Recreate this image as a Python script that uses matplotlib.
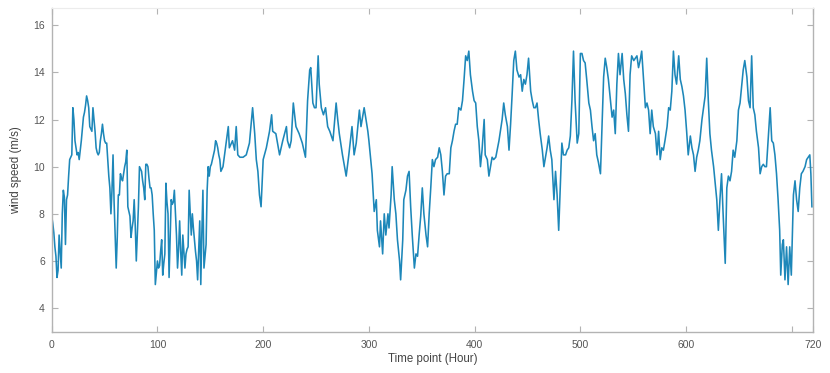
import matplotlib
matplotlib.use("Agg")
import matplotlib.pyplot as plt

# ---- data (hour, wind speed m/s) ----
hours = [
    0, 1, 2, 3, 4, 5, 6, 7, 8, 9, 10, 11, 12, 13, 14, 15, 16, 17, 18, 19,
    20, 21, 22, 23, 24, 25, 26, 27, 28, 29, 30, 31, 32, 33, 34, 35, 36, 37, 38, 39,
    40, 41, 42, 43, 44, 45, 46, 47, 48, 49, 50, 51, 52, 53, 54, 55, 56, 57, 58, 59,
    60, 61, 62, 63, 64, 65, 66, 67, 68, 69, 70, 71, 72, 73, 74, 75, 76, 77, 78, 79,
    80, 81, 82, 83, 84, 85, 86, 87, 88, 89, 90, 91, 92, 93, 94, 95, 96, 97, 98, 99,
    100, 101, 102, 103, 104, 105, 106, 107, 108, 109, 110, 111, 112, 113, 114, 115, 116, 117, 118, 119,
    120, 121, 122, 123, 124, 125, 126, 127, 128, 129, 130, 131, 132, 133, 134, 135, 136, 137, 138, 139,
    140, 141, 142, 143, 144, 145, 146, 147, 148, 149, 150, 151, 152, 153, 154, 155, 156, 157, 158, 159,
    160, 162, 165, 167, 168, 171, 173, 174.5, 176, 178, 181, 184, 187, 190, 192, 193.5, 195, 196.5, 198,
    200, 203, 206, 208, 209, 212, 215.5, 218.5, 222, 223, 225, 226.5, 228.5, 231, 234, 237, 240, 242,
    244, 245, 247, 248.5, 250, 252, 253, 255, 257, 259, 261, 263, 266, 269, 270.5, 272, 275, 277, 278.5,
    281, 284, 286, 288, 291, 292.5, 294, 295.5, 299, 300, 303, 305, 307, 308, 310, 311, 313, 314.5, 316,
    318, 319, 321, 322, 324, 325.5, 327, 329, 330, 332, 333, 335, 336.5, 338, 339.5, 341, 343, 344.5,
    346, 347.5, 349, 350.5, 352, 354, 355.5, 357, 358.5, 360, 361.5, 363, 365, 366.5, 368, 369.5, 371,
    372.5, 374, 376, 377.5, 379, 380.5, 382, 383.5, 385, 387, 388.5, 390, 391.5, 393, 394.5, 396, 398,
    399.5, 401, 402.5, 404, 405.5, 407, 409, 410, 412, 413.5, 415, 416.5, 418, 420, 423, 426, 427.5,
    429, 431, 432.5, 434, 435.5, 437, 438.5, 440, 442, 443.5, 445, 446.5, 448, 449.5, 451, 453, 454.5,
    456, 457.5, 459, 460.5, 462, 464, 465.5, 467, 468.5, 470, 471.5, 473, 475, 476.5, 478, 479.5, 481,
    482.5, 484, 486, 487.5, 489, 490.5, 492, 493.5, 495, 497, 498.5, 500, 501.5, 503, 504.5, 506, 508,
    509.5, 511, 512.5, 514, 515.5, 517, 519, 520.5, 522, 523.5, 525, 526.5, 528.5, 530, 531.5, 533,
    534.5, 536, 537.5, 539.5, 541, 542.5, 544, 545.5, 547, 548.5, 550.5, 552, 553.5, 555, 556.5, 558,
    560, 561.5, 563, 564.5, 566, 567.5, 569, 571, 572.5, 574, 575.5, 577, 578.5, 580, 582, 583.5, 585,
    586.5, 588, 589.5, 591, 593, 594.5, 596, 597.5, 599, 600.5, 602, 604, 605.5, 607, 608.5, 610,
    611.5, 613, 615, 616.5, 618, 619.5, 621, 622.5, 624, 626, 627.5, 629, 630.5, 632, 633.5, 635, 637,
    638.5, 640, 641.5, 643, 644.5, 646, 648, 649.5, 651, 652.5, 654, 655.5, 657.5, 659, 660.5, 662,
    663.5, 665, 666.5, 668.5, 670, 671.5, 673, 674.5, 676, 677.5, 679.5, 681, 682.5, 684, 685.5, 687,
    688.5, 689.5, 691, 692, 693.5, 695, 696.5, 698, 699.5, 701.5, 703, 704.5, 706, 707.5, 709, 710.5,
    712.5, 714, 715.5, 717, 718, 719,
]

wind_speed = [
    7.9, 7.6, 7.2, 6.6, 6.2, 5.3, 5.6, 7.1, 6.4, 5.7, 8.0, 9.0, 8.7, 6.7, 8.6, 8.8, 9.6, 10.3, 10.4, 10.5,
    12.5, 12.0, 11.1, 10.8, 10.5, 10.6, 10.3, 10.7, 11.1, 11.6, 12.1, 12.3, 12.6, 13.0, 12.8, 12.5, 11.7, 11.6, 11.5, 12.5,
    12.0, 11.5, 10.8, 10.6, 10.5, 10.6, 11.1, 11.4, 11.8, 11.4, 11.1, 11.0, 11.0, 10.3, 9.6, 9.1, 8.0, 9.0, 10.5, 8.5,
    7.1, 5.7, 7.0, 8.8, 8.8, 9.7, 9.5, 9.4, 9.7, 10.0, 10.2, 10.7, 8.3, 8.1, 7.9, 7.0, 7.4, 7.7, 8.6, 7.5,
    6.0, 7.2, 8.3, 10.0, 9.9, 9.8, 9.4, 9.1, 8.6, 10.1, 10.1, 10.0, 9.5, 9.1, 9.1, 8.8, 8.0, 7.3, 5.0, 5.5,
    6.0, 5.7, 5.8, 6.4, 6.9, 5.4, 5.9, 6.3, 9.3, 8.5, 8.0, 5.3, 7.0, 8.6, 8.4, 8.5, 9.0, 8.0, 7.1, 5.7,
    6.5, 7.7, 6.4, 5.4, 7.1, 6.4, 5.7, 6.3, 6.5, 6.6, 9.0, 8.0, 7.1, 8.0, 7.4, 6.9, 6.4, 6.0, 5.2, 6.5,
    7.7, 5.0, 7.2, 9.0, 5.7, 6.2, 6.7, 9.0, 10.0, 9.6, 10.0, 10.1, 10.3, 10.5, 10.7, 11.1, 11.0, 10.8, 10.5, 10.3,
    9.8, 10.0, 11.0, 11.7, 10.8, 11.1, 10.7, 11.7, 10.5, 10.4, 10.4, 10.5, 11.0, 12.5, 11.4, 10.3, 9.8, 8.8, 8.3,
    10.3, 10.8, 11.5, 12.2, 11.5, 11.4, 10.5, 11.1, 11.7, 11.1, 10.8, 11.1, 12.7, 11.7, 11.4, 11.0, 10.4, 12.8,
    14.1, 14.2, 12.7, 12.5, 12.5, 14.7, 13.5, 12.5, 12.2, 12.5, 11.7, 11.5, 11.1, 12.7, 12.0, 11.4, 10.5, 10.0, 9.6,
    10.5, 11.7, 10.5, 11.0, 12.4, 11.7, 12.1, 12.5, 11.5, 11.1, 9.7, 8.1, 8.6, 7.3, 6.6, 7.7, 6.3, 8.0, 7.1,
    8.0, 7.4, 8.8, 10.0, 8.6, 8.0, 6.9, 6.0, 5.2, 6.9, 8.6, 9.0, 9.6, 9.8, 8.3, 7.1, 5.7, 6.3,
    6.2, 7.1, 7.9, 9.1, 8.0, 7.1, 6.6, 8.0, 9.1, 10.3, 10.0, 10.3, 10.4, 10.8, 10.5, 9.8, 8.8,
    9.6, 9.7, 9.7, 10.8, 11.1, 11.5, 11.8, 11.8, 12.5, 12.4, 12.8, 13.7, 14.7, 14.5, 14.9, 13.9, 13.2,
    12.8, 12.7, 11.7, 11.1, 10.0, 10.7, 12.0, 10.5, 10.3, 9.6, 10.0, 10.4, 10.3, 10.4, 11.1, 12.0, 12.7,
    12.2, 11.7, 10.7, 11.8, 13.1, 14.5, 14.9, 14.1, 13.8, 13.9, 13.2, 13.7, 13.5, 13.9, 14.6, 13.2, 12.8,
    12.5, 12.5, 12.7, 12.0, 11.4, 10.7, 10.0, 10.4, 10.8, 11.3, 10.7, 10.3, 8.6, 9.8, 8.8, 7.3, 9.1,
    11.0, 10.5, 10.5, 10.7, 10.8, 11.3, 12.8, 14.9, 12.8, 11.0, 11.4, 14.8, 14.8, 14.5, 14.4, 13.7, 12.7,
    12.4, 11.7, 11.1, 11.4, 10.5, 10.2, 9.7, 11.7, 13.8, 14.6, 14.2, 13.7, 12.8, 12.1, 12.4, 11.4,
    13.5, 14.8, 13.9, 14.8, 13.7, 13.1, 12.2, 11.5, 13.9, 14.7, 14.5, 14.6, 14.7, 14.2, 14.5, 14.9,
    13.5, 12.5, 12.7, 12.4, 11.4, 12.4, 11.7, 11.4, 10.5, 11.5, 10.3, 10.8, 10.7, 11.1, 11.7, 12.5, 12.4,
    13.2, 14.9, 13.9, 13.5, 14.7, 13.7, 13.4, 13.0, 12.4, 11.5, 10.5, 11.3, 10.8, 10.5, 9.8, 10.4,
    10.7, 11.1, 12.0, 12.5, 13.0, 14.6, 12.8, 11.4, 10.7, 10.0, 9.3, 8.6, 7.3, 8.6, 9.7, 8.0, 5.9,
    9.1, 9.6, 9.4, 9.8, 10.7, 10.4, 11.1, 12.4, 12.7, 13.4, 14.1, 14.5, 13.8, 12.8, 12.5, 14.7,
    12.5, 12.2, 11.5, 10.8, 9.7, 10.0, 10.1, 10.0, 10.0, 11.1, 12.5, 11.1, 11.0, 10.5, 9.7, 8.6,
    7.3, 5.4, 6.7, 6.9, 5.2, 6.6, 5.0, 6.6, 5.4, 8.8, 9.4, 8.6, 8.1, 9.1, 9.7, 9.8,
    10.0, 10.3, 10.4, 10.5, 9.7, 8.3,
]

x_ticks = [0, 100, 200, 300, 400, 500, 600, 700, 720]
x_tick_labels = ["0", "100", "200", "300", "400", "500", "600", "", "720"]
y_ticks = [4, 6, 8, 10, 12, 14, 16]

plt.rcParams['font.family'] = ['Liberation Sans', 'DejaVu Sans']

fig = plt.figure(figsize=(8.30, 3.73), dpi=100)
ax = fig.add_axes([0.0623, 0.1107, 0.9172, 0.8679])

ax.plot(hours, wind_speed, color='#1d87b9', lw=1.15)

ax.set_xlim(0, 720)
ax.set_ylim(3, 16.73)
ax.set_xticks(x_ticks)
ax.set_xticklabels(x_tick_labels)
ax.set_yticks(y_ticks)

spine_col = '#b3b3b3'
for s in ['left', 'bottom', 'right']:
    ax.spines[s].set_color(spine_col)
    ax.spines[s].set_linewidth(1.0)
ax.spines['top'].set_color('#ececec')
ax.spines['top'].set_linewidth(0.8)

ax.tick_params(axis='both', direction='in', length=4, width=0.8, color=spine_col,
               labelsize=7.5, labelcolor='#555555', top=True, right=True)
ax.tick_params(axis='x', pad=6)
ax.tick_params(axis='y', pad=5)

ax.set_xlabel('Time point (Hour)', fontsize=8.3, color='#444444', labelpad=2)
ax.set_ylabel('wind speed (m/s)', fontsize=8.3, color='#444444', labelpad=8)

fig.savefig('out.png', dpi=100)
